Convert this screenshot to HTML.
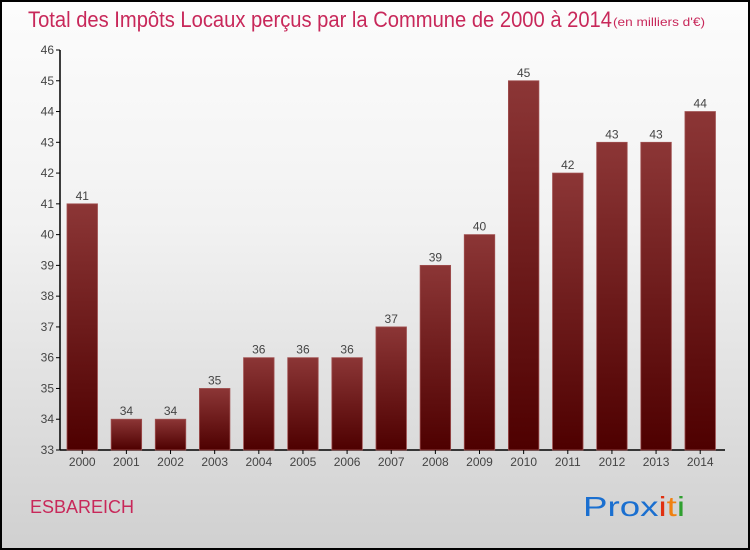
<!DOCTYPE html>
<html><head><meta charset="utf-8"><style>
body{margin:0;width:750px;height:550px;overflow:hidden;font-family:"Liberation Sans",sans-serif}
#c{position:absolute;left:0;top:0;width:746px;height:546px;border:2px solid #000;background:linear-gradient(#fcfcfc,#f2f2f2 40%,#d0d0d0)}
</style></head><body>
<div id="c"></div>
<svg id="s" width="750" height="550" style="position:absolute;left:0;top:0">
<defs><linearGradient id="g" x1="0" y1="0" x2="0" y2="1"><stop offset="0" stop-color="#8c3636"/><stop offset="1" stop-color="#4e0000"/></linearGradient></defs>
<text x="28" y="27" font-size="22" fill="#c8285a" textLength="584" lengthAdjust="spacingAndGlyphs">Total des Impôts Locaux perçus par la Commune de 2000 à 2014</text>
<text x="613" y="26" font-size="12" fill="#c8285a" textLength="92" lengthAdjust="spacingAndGlyphs">(en milliers d'€)</text>
<text x="30" y="513" font-size="18" fill="#c8285a">ESBAREICH</text>
<text x="583" y="516" font-size="28" textLength="102" lengthAdjust="spacingAndGlyphs"><tspan fill="#1a6fd0">Prox</tspan><tspan fill="#e03010">i</tspan><tspan fill="#f08010">t</tspan><tspan fill="#30a030">i</tspan></text>
<g id="plot"></g>
</svg>
<script>
const years=["2000","2001","2002","2003","2004","2005","2006","2007","2008","2009","2010","2011","2012","2013","2014"];
const values=[41,34,34,35,36,36,36,37,39,40,45,42,43,43,44];
const yTicks=[33,34,35,36,37,38,39,40,41,42,43,44,45,46];
const ns="http://www.w3.org/2000/svg",p=document.getElementById('plot');
const y=v=>450-(v-33)*400/13, x=i=>67+i*44.14;
function mk(t,a,txt){const e=document.createElementNS(ns,t);for(const k in a)e.setAttribute(k,a[k]);if(txt!=null)e.textContent=txt;p.appendChild(e);return e;}
let ax=mk('line',{x1:60,y1:50,x2:60,y2:450,stroke:'#000','stroke-width':1.5});


let bx=mk('line',{x1:60,y1:450,x2:725,y2:450,stroke:'#000','stroke-width':1.5});


yTicks.forEach(v=>{
 mk('line',{x1:56,x2:60,y1:y(v),y2:y(v),stroke:'#000'});
 const t=mk('text',{x:54,y:y(v)+4,'font-size':12,fill:'#444','text-anchor':'end'},v);
 
 
});
years.forEach((yr,i)=>{
 const v=values[i];
 const r=mk('rect',{x:x(i),y:y(v),width:30.5,height:450-y(v),fill:'url(#g)',stroke:'#a05050','stroke-width':0.8});
 
 
 mk('line',{x1:x(i)+15.25,x2:x(i)+15.25,y1:450,y2:454,stroke:'#000'});
 const t=mk('text',{x:x(i)+15.25,y:466,'font-size':12,fill:'#444','text-anchor':'middle'},yr);
 
 
 const l=mk('text',{x:x(i)+15.25,y:y(v)-4,'font-size':12,fill:'#444','text-anchor':'middle'},v);
 
 
});
</script>
</body></html>
